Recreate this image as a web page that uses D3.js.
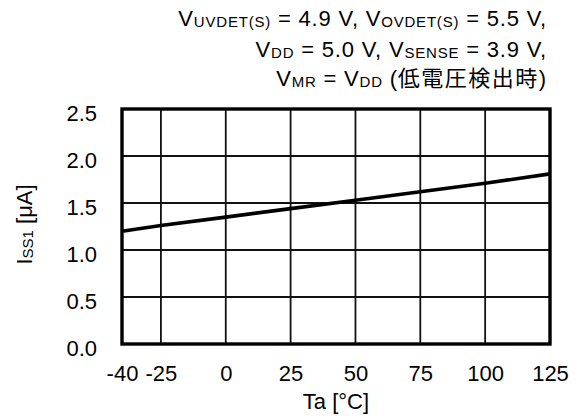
<!DOCTYPE html>
<html><head><meta charset="utf-8">
<script src="https://cdn.jsdelivr.net/npm/d3@7"></script>
<style>
body{margin:0;background:#fff;}
svg{display:block;font-family:Arial,"Liberation Sans",sans-serif;}
</style></head>
<body><svg id="c" width="581" height="418"></svg>
<script>
const temps = [-40, -25, 0, 25, 50, 75, 100, 125];
const iss1 = [1.20, 1.26, 1.35, 1.44, 1.53, 1.62, 1.71, 1.81];
const xTicks = [-40, -25, 0, 25, 50, 75, 100, 125];
const yTicks = [0, 0.5, 1.0, 1.5, 2.0, 2.5];

const svg = d3.select("#c");
const L = 122, R = 550, T = 109, B = 344;
const x = d3.scaleLinear().domain([-40, 125]).range([L, R]);
const y = d3.scaleLinear().domain([0, 2.5]).range([B, T]);
const fs = 22, sfs = 15;

// grid
const g = svg.append("g");
g.selectAll("line.v").data(xTicks.slice(1, -1)).join("line")
  .attr("x1", d => x(d)).attr("x2", d => x(d)).attr("y1", T).attr("y2", B)
  .attr("stroke", "#111").attr("stroke-width", 1.8);
g.selectAll("line.h").data(yTicks.slice(1, -1)).join("line")
  .attr("x1", L).attr("x2", R).attr("y1", d => y(d)).attr("y2", d => y(d))
  .attr("stroke", "#111").attr("stroke-width", 1.8);

// data line
svg.append("path").datum(temps.map((t, i) => [t, iss1[i]]))
  .attr("d", d3.line().x(d => x(d[0])).y(d => y(d[1])))
  .attr("fill", "none").attr("stroke", "#000").attr("stroke-width", 3.6);

// frame
svg.append("rect").attr("x", L).attr("y", T).attr("width", R - L).attr("height", B - T)
  .attr("fill", "none").attr("stroke", "#000").attr("stroke-width", 3.4);

// axes labels
const xa = svg.append("g").attr("transform", `translate(0,${B})`)
  .call(d3.axisBottom(x).tickValues(xTicks).tickSize(0).tickPadding(21).tickFormat(d => String(d)));
xa.select(".domain").remove();
xa.selectAll("text").attr("font-size", fs).attr("font-family", null).attr("fill", "#000");

const ya = svg.append("g").attr("transform", `translate(${L},0)`)
  .call(d3.axisLeft(y).tickValues(yTicks).tickSize(0).tickPadding(25).tickFormat(d3.format(".1f")));
ya.select(".domain").remove();
ya.selectAll("text").attr("font-size", fs).attr("font-family", null).attr("fill", "#000").attr("dy", "0.5em");

// axis titles
svg.append("text").attr("x", (L + R) / 2).attr("y", 409).attr("text-anchor", "middle")
  .attr("font-size", fs).text("Ta [°C]");
const yt = svg.append("text").attr("transform", `translate(32,${(T + B) / 2 - 2}) rotate(-90)`)
  .attr("text-anchor", "middle").attr("font-size", fs);
yt.append("tspan").text("I");
yt.append("tspan").attr("font-size", sfs).attr("dy", 1).text("SS1");
yt.append("tspan").attr("dy", -1).text(" [μA]");

// condition text
const lines = [
  [["V", 0], ["UVDET(S)", 1], [" = 4.9 V, V", 0], ["OVDET(S)", 1], [" = 5.5 V,", 0]],
  [["V", 0], ["DD", 1], [" = 5.0 V, V", 0], ["SENSE", 1], [" = 3.9 V,", 0]],
  [["V", 0], ["MR", 1], [" = V", 0], ["DD", 1], [" (", 0], ["低電圧検出時", 2], [")", 0]]
];
const baselines = [26, 57, 86];
lines.forEach((parts, i) => {
  const t = svg.append("text").attr("x", 547).attr("y", baselines[i]).attr("text-anchor", "end")
    .attr("font-size", fs).attr("letter-spacing", 0.8);
  let sub = false;
  parts.forEach(([s, k]) => {
    const ts = t.append("tspan").text(s);
    if (k === 1) { ts.attr("font-size", sfs).attr("dy", sub ? 0 : 1); sub = true; }
    else { if (sub) ts.attr("dy", -1); sub = false; }
    if (k === 2) ts.attr("font-family", "'Noto Sans CJK JP'").attr("letter-spacing", 1.5);
  });
});
</script></body></html>
